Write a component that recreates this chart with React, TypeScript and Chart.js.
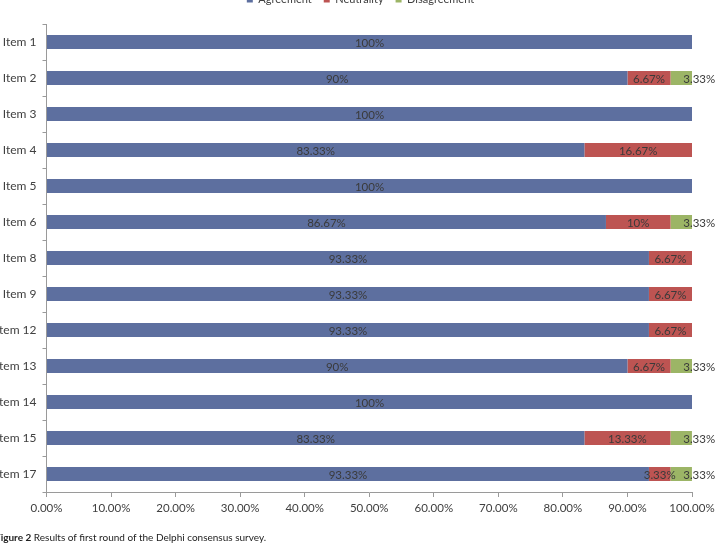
import { useEffect, useRef } from "react";
import { Chart, registerables } from "chart.js";

Chart.register(...registerables);

// Survey items (category axis)
const items = [
  "Item 1", "Item 2", "Item 3", "Item 4", "Item 5", "Item 6", "Item 8",
  "Item 9", "Item 12", "Item 13", "Item 14", "Item 15", "Item 17",
];

// Share of respondents (%) per answer
const agreement = [100, 90, 100, 83.33, 100, 86.67, 93.33, 93.33, 93.33, 90, 100, 83.33, 93.33];
const neutrality = [0, 6.67, 0, 16.67, 0, 10, 6.67, 6.67, 6.67, 6.67, 0, 13.33, 3.33];
const disagreement = [0, 3.33, 0, 0, 0, 3.33, 0, 0, 0, 3.33, 0, 3.33, 3.33];

const seriesNames = ["Agreement", "Neutrality", "Disagreement"];
const seriesColors = ["#5D6F9F", "#BD5452", "#9CB566"];

const xMin = 0;
const xMax = 100;
const xStep = 10;

const FONT = "Lato, 'Open Sans', sans-serif";

const fmtValue = (v: number) => `${Number(v.toFixed(2))}%`;
const fmtTick = (v: number) => `${v.toFixed(2)}%`;

// Writes each segment's value in the middle of the segment
const valueLabels = {
  id: "valueLabels",
  afterDatasetsDraw(chart: any) {
    const ctx = chart.ctx as CanvasRenderingContext2D;
    ctx.save();
    ctx.font = `11.5px ${FONT}`;
    ctx.fillStyle = "#3a3a3a";
    ctx.textAlign = "center";
    ctx.textBaseline = "middle";
    chart.data.datasets.forEach((ds: any, di: number) => {
      const meta = chart.getDatasetMeta(di);
      meta.data.forEach((bar: any, i: number) => {
        const v = ds.data[i] as number;
        if (!v) return;
        const { x, base, y } = bar.getProps(["x", "base", "y"], true);
        let cx = (x + base) / 2;
        // the narrow last segment carries its label just past the bar end
        if (di === 2) cx += 18;
        ctx.fillText(fmtValue(v), cx, y + 1);
      });
    });
    ctx.restore();
  },
};

// Sets the room taken by the legend above the plot and centres it on the page
const legendRoom = {
  id: "legendRoom",
  beforeInit(chart: any) {
    const fit = chart.legend.fit;
    chart.legend.fit = function () {
      fit.call(this);
      this.height = 42;
    };
  },
  afterLayout(chart: any) {
    chart.legend.right = chart.width - 5;
  },
};

function App() {
  const ref = useRef<HTMLCanvasElement | null>(null);

  useEffect(() => {
    if (!ref.current) return;
    const data = [agreement, neutrality, disagreement];
    const chart = new Chart(ref.current, {
      type: "bar",
      data: {
        labels: items,
        datasets: seriesNames.map((name, k) => ({
          label: name,
          data: data[k],
          backgroundColor: seriesColors[k],
          borderWidth: 0,
          barPercentage: 0.39,
          categoryPercentage: 1,
        })),
      },
      options: {
        indexAxis: "y",
        animation: false,
        responsive: true,
        maintainAspectRatio: false,
        layout: { padding: { left: 0, right: 34, top: 0, bottom: 0 } },
        plugins: {
          legend: {
            position: "top",
            labels: {
              boxWidth: 6,
              boxHeight: 6,
              padding: 12,
              color: "#404040",
              font: { family: FONT, size: 11 },
            },
          },
          tooltip: { enabled: false },
        },
        scales: {
          x: {
            stacked: true,
            min: xMin,
            max: xMax,
            ticks: {
              stepSize: xStep,
              color: "#404040",
              padding: 4,
              font: { family: FONT, size: 11.5 },
              callback: (v: any) => fmtTick(Number(v)),
            },
            grid: {
              drawOnChartArea: false,
              drawTicks: true,
              tickLength: 5,
              color: "#9a9a9a",
            },
            border: { color: "#9a9a9a", width: 1 },
            afterFit: (s: any) => {
              s.height = 45;
            },
          },
          y: {
            stacked: true,
            ticks: {
              color: "#404040",
              padding: 6,
              font: { family: FONT, size: 12 },
            },
            grid: {
              drawOnChartArea: false,
              drawTicks: true,
              tickLength: 4,
              offset: true,
              color: "#9a9a9a",
            },
            border: { color: "#9a9a9a", width: 1 },
            afterFit: (s: any) => {
              s.width = 46.5;
            },
          },
        },
      },
      plugins: [valueLabels, legendRoom],
    });
    return () => chart.destroy();
  }, []);

  return (
    <div style={{ position: "fixed", inset: 0, overflow: "hidden", background: "#fff" }}>
      <div style={{ position: "absolute", left: 0, top: -18, width: 726, height: 555 }}>
        <canvas ref={ref} />
      </div>
      <div
        style={{
          position: "absolute",
          left: -5,
          top: 530,
          whiteSpace: "nowrap",
          fontFamily: FONT,
          fontSize: 10,
          lineHeight: "14px",
          color: "#222",
        }}
      >
        <b>Figure 2</b> Results of first round of the Delphi consensus survey.
      </div>
    </div>
  );
}

export default App;
